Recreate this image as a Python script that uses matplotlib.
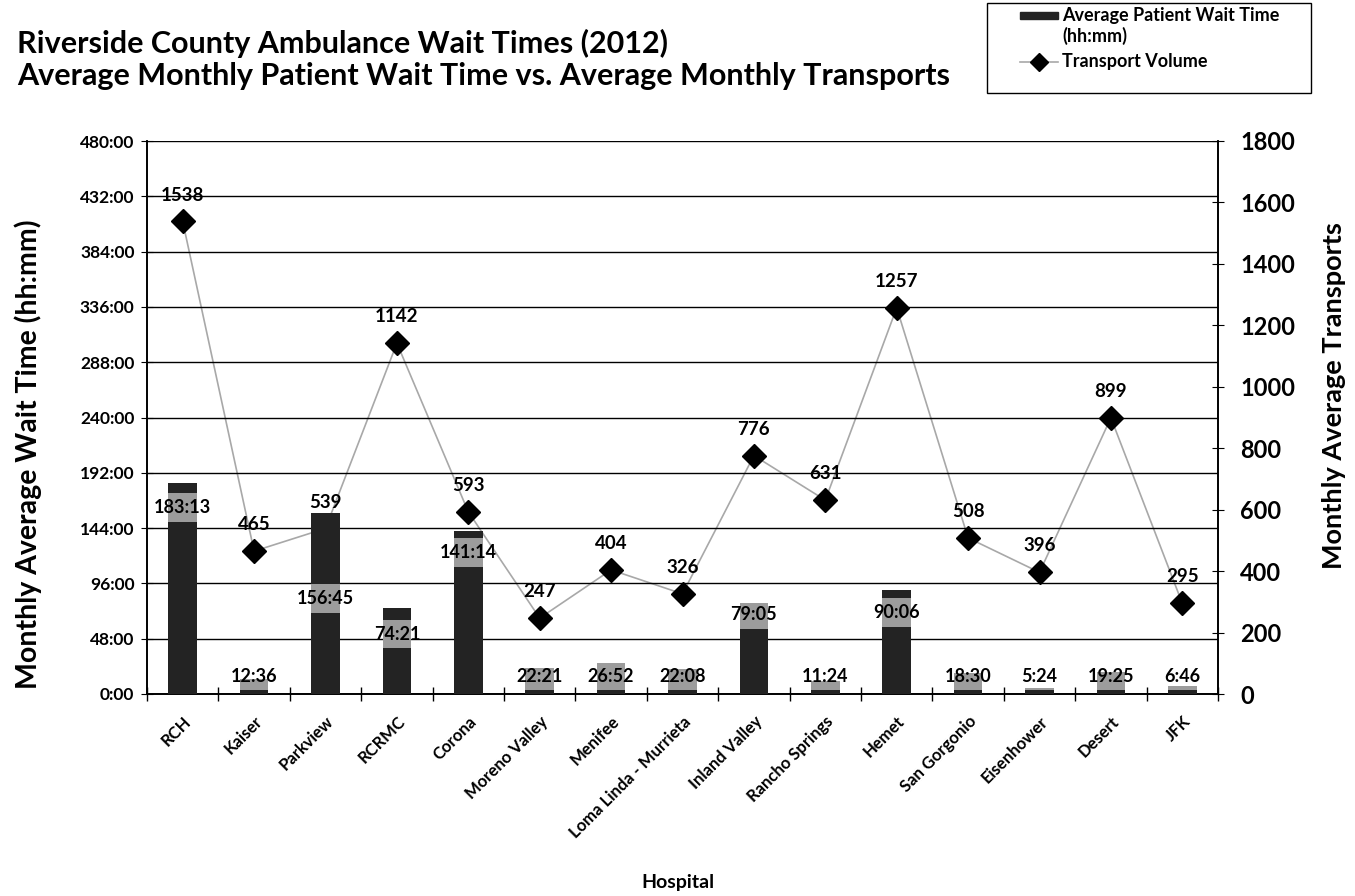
import matplotlib
matplotlib.use('Agg')
import matplotlib.pyplot as plt
from matplotlib.patches import Rectangle
from matplotlib.lines import Line2D
from matplotlib.ticker import FixedLocator, FuncFormatter
import numpy as np

plt.rcParams['font.family'] = ['Lato', 'DejaVu Sans']
plt.rcParams['font.weight'] = 'bold'

hospitals = ['RCH', 'Kaiser', 'Parkview', 'RCRMC', 'Corona', 'Moreno Valley',
             'Menifee', 'Loma Linda - Murrieta', 'Inland Valley', 'Rancho Springs',
             'Hemet', 'San Gorgonio', 'Eisenhower', 'Desert', 'JFK']
wait_times = ['183:13', '12:36', '156:45', '74:21', '141:14', '22:21',
              '26:52', '22:08', '79:05', '11:24', '90:06', '18:30',
              '5:24', '19:25', '6:46']
transports = [1538, 465, 539, 1142, 593, 247, 404, 326, 776, 631,
              1257, 508, 396, 899, 295]

# where the wait-time labels sit (hours), moved by hand in the original
label_y = [162, 15.6, 83, 52, 123, 15.6, 15.6, 15.6, 69, 15.6, 71, 15.6, 15.6, 15.6, 15.6]


def to_hours(s):
    h, m = s.split(':')
    return int(h) + int(m) / 60.0


hours = np.array([to_hours(s) for s in wait_times])
x = np.arange(len(hospitals))

W, H = 1355, 896
fig = plt.figure(figsize=(W / 100, H / 100), dpi=100)
ax = fig.add_axes([147 / W, 1 - 694 / H, (1218 - 147) / W, (694 - 141) / H])
ax2 = ax.twinx()

# line goes behind the bars (Parkview's marker is hidden by its bar)
ax.set_zorder(2)
ax2.set_zorder(1)
ax.patch.set_visible(False)

bar_color = '#232323'
band_color = '#9c9c9c'
ax.bar(x, hours, width=0.4, color=bar_color, zorder=3)

# lighter band of the bar behind each label
band = 12.5
ly = np.array(label_y)
band_bot = np.clip(ly - band, 0, None)
band_top = np.minimum(hours, ly + band)
ax.bar(x, np.clip(band_top - band_bot, 0, None), bottom=band_bot, width=0.4,
       color=band_color, zorder=3.5)

ax2.plot(x, transports, color='#a8a8a8', lw=1.2, marker='D', markersize=12,
         markerfacecolor='black', markeredgecolor='black', zorder=3)

for xi, s, y in zip(x, wait_times, label_y):
    ax.text(xi, y, s, ha='center', va='center', fontsize=13, fontweight='bold', zorder=5)
for xi, v in zip(x, transports):
    ax2.annotate(str(v), (xi, v), xytext=(0, 19), textcoords='offset points',
                 ha='center', va='center', fontsize=13.5, fontweight='bold', zorder=5)

ax.set_xlim(-0.5, len(hospitals) - 0.5)
ax.set_ylim(0, 480)
ax2.set_ylim(0, 1800)
ax.set_yticks(np.arange(0, 481, 48))
ax.yaxis.set_major_formatter(FuncFormatter(lambda v, p: '%d:00' % v))
ax2.set_yticks(np.arange(0, 1801, 200))

ax.grid(axis='y', color='black', lw=1, zorder=0)
ax.set_axisbelow(True)

ax.set_xticks(x)
ax.set_xticklabels(hospitals, rotation=45, ha='right', rotation_mode='anchor',
                   fontsize=12, fontweight='bold')
ax.xaxis.set_minor_locator(FixedLocator(np.arange(-0.5, len(hospitals), 1)))
ax.tick_params(axis='x', which='major', length=0, pad=14)
ax.tick_params(axis='x', which='minor', length=10, direction='inout', width=1)
ax.tick_params(axis='y', length=8, direction='inout', labelsize=12.5, pad=5)
ax2.tick_params(axis='y', length=8, direction='inout', labelsize=17, pad=12)
for t in ax.get_yticklabels() + ax2.get_yticklabels():
    t.set_fontweight('bold')

for a in (ax, ax2):
    a.spines['top'].set_visible(False)
    for sp in ('left', 'right', 'bottom'):
        a.spines[sp].set_color('black')
        a.spines[sp].set_linewidth(1.2)

ax.set_ylabel('Monthly Average Wait Time (hh:mm)', fontsize=20.5, fontweight='bold')
ax.yaxis.set_label_coords(-0.098, 0.434)
ax2.set_ylabel('Monthly Average Transports', fontsize=19.5, fontweight='bold')
ax2.yaxis.set_label_coords(1.097, 0.54)
fig.text(0.5, 1 - 882 / H, 'Hospital', ha='center', va='center', fontsize=14, fontweight='bold')

fig.text(17 / W, 1 - 43 / H, 'Riverside County Ambulance Wait Times (2012)',
         ha='left', va='center', fontsize=22, fontweight='bold')
fig.text(17 / W, 1 - 76 / H,
         'Average Monthly Patient Wait Time vs. Average Monthly Transports',
         ha='left', va='center', fontsize=22, fontweight='bold')

# legend box, drawn by hand
fig.patches.append(Rectangle((987 / W, 1 - 93 / H), (1311 - 987) / W, 90 / H,
                             transform=fig.transFigure, fill=False, edgecolor='black', lw=1))
fig.patches.append(Rectangle((1020 / W, 1 - 19 / H), 38 / W, 7 / H,
                             transform=fig.transFigure, color=bar_color))
fig.lines.append(Line2D([1020 / W, 1058 / W], [1 - 62 / H, 1 - 62 / H], transform=fig.transFigure,
                        color='#a8a8a8', lw=1.2))
fig.lines.append(Line2D([1039 / W], [1 - 62 / H], transform=fig.transFigure, marker='D',
                        markersize=9, color='black'))
fig.text(1062 / W, 1 - 15 / H, 'Average Patient Wait Time', ha='left', va='center',
         fontsize=13, fontweight='bold')
fig.text(1062 / W, 1 - 36 / H, '(hh:mm)', ha='left', va='center', fontsize=13, fontweight='bold')
fig.text(1062 / W, 1 - 62 / H, 'Transport Volume', ha='left', va='center',
         fontsize=13, fontweight='bold')

fig.savefig('out.png', dpi=100)
